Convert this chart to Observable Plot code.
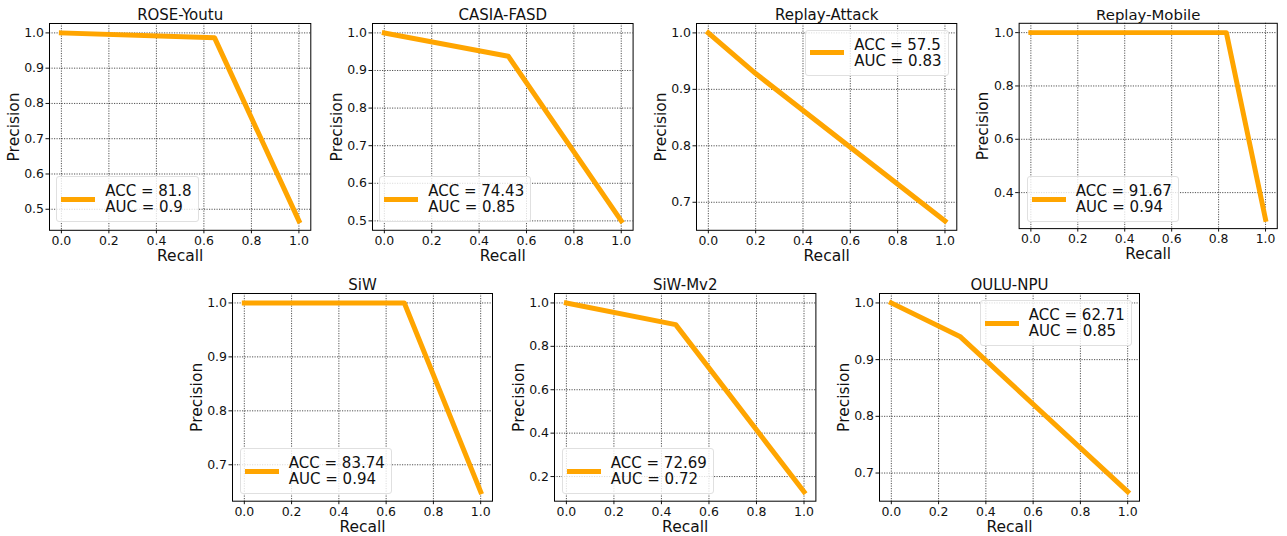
<!DOCTYPE html>
<html><head><meta charset="utf-8">
<script src="https://cdn.jsdelivr.net/npm/d3@7"></script>
<script src="https://cdn.jsdelivr.net/npm/@observablehq/plot@0.6"></script>
<style>
html,body{margin:0;padding:0;background:#fff;}
#root{position:relative;width:1287px;height:536px;overflow:hidden;font-family:"DejaVu Sans",sans-serif;background:#fff;}
.panel{position:absolute;}
.panel svg{overflow:visible;display:block;font-family:"DejaVu Sans",sans-serif !important;}
.panel svg text{font-family:"DejaVu Sans",sans-serif !important;font-weight:normal;}
.panel g[aria-label="x-axis tick label"] text,.panel g[aria-label="y-axis tick label"] text{font-size:12.5px !important;}
.panel g[aria-label="x-axis label"] text,.panel g[aria-label="y-axis label"] text{font-size:15.5px !important;}
.legend{position:absolute;display:flex;align-items:center;background:rgba(255,255,255,0.8);border:1px solid #e0e0e0;border-radius:3px;padding:6px 6px 6px 4px;font-size:15px;line-height:16px;color:#111;white-space:nowrap;}
.legend .swatch{width:34px;height:5px;background:#FFA500;margin-right:10px;}
</style></head><body><div id="root"></div>
<script>
// ---- data ----
const datasets = ["ROSE-Youtu", "CASIA-FASD", "Replay-Attack", "Replay-Mobile", "SiW", "SiW-Mv2", "OULU-NPU"];
const recall = [
  [0, 0.645, 1],
  [0, 0.523, 1],
  [0, 0.2, 1],
  [0, 0.833, 1],
  [0, 0.677, 1],
  [0, 0.46, 1],
  [0, 0.29, 1]
];
const precision = [
  [1, 0.986, 0.467],
  [1, 0.938, 0.5],
  [1, 0.928, 0.667],
  [1, 1, 0.3],
  [1, 1, 0.65],
  [1, 0.9, 0.13],
  [1, 0.941, 0.667]
];
const accValues = ["81.8", "74.43", "57.5", "91.67", "83.74", "72.69", "62.71"];
const aucValues = ["0.9", "0.85", "0.83", "0.94", "0.94", "0.72", "0.85"];
const xTicks = [0, 0.2, 0.4, 0.6, 0.8, 1.0];
const yTickSets = [
  [0.5, 0.6, 0.7, 0.8, 0.9, 1.0],
  [0.5, 0.6, 0.7, 0.8, 0.9, 1.0],
  [0.7, 0.8, 0.9, 1.0],
  [0.4, 0.6, 0.8, 1.0],
  [0.7, 0.8, 0.9, 1.0],
  [0.2, 0.4, 0.6, 0.8, 1.0],
  [0.7, 0.8, 0.9, 1.0]
];

// ---- layout ----
const frames = [
  [48.7, 22.5, 310, 229.3],
  [371.7, 22.5, 632.3, 229.3],
  [695.7, 22.5, 956, 229.3],
  [1019.3, 22.5, 1279.3, 229.3],
  [232.3, 293.3, 492.3, 501],
  [554.3, 293.3, 815.7, 501],
  [879.3, 293.3, 1139.3, 501]
];
const legendPos = ["ll", "ll", "ur", "ll", "ll", "ll", "ur"];
const ML = 52, MR = 10, MT = 28, MB = 36;
const root = document.getElementById("root");
const fmt = d3.format(".1f");
const gridStyle = {stroke: "#000", strokeOpacity: 0.85, strokeWidth: 0.8, strokeDasharray: "1.2,1.3"};

datasets.forEach((name, i) => {
  const [fl, ft, fr, fb] = frames[i];
  const W = fr - fl + ML + MR, H = fb - ft + MT + MB;
  const data = recall[i].map((r, j) => ({recall: r, precision: precision[i][j]}));
  const ymin = d3.min(precision[i]), ymax = d3.max(precision[i]);
  const pad = (ymax - ymin) * 0.05;
  const svg = Plot.plot({
    width: W, height: H,
    marginLeft: ML, marginRight: MR, marginTop: MT, marginBottom: MB,
    style: {fontFamily: "DejaVu Sans", fontSize: "12.5px", color: "#111", background: "transparent", overflow: "visible"},
    x: {domain: [-0.05, 1.05]},
    y: {domain: [ymin - pad, ymax + pad]},
    marks: [
      Plot.gridX(xTicks, gridStyle),
      Plot.gridY(yTickSets[i], gridStyle),
      Plot.line(data, {x: "recall", y: "precision", stroke: "#FFA500", strokeWidth: 5, strokeLinecap: "square", strokeLinejoin: "round"}),
      Plot.frame({stroke: "#000", strokeWidth: 1}),
      Plot.axisX(xTicks, {tickFormat: fmt, tickSize: 3.5, tickPadding: 2, label: "Recall", labelAnchor: "center", labelArrow: "none", labelOffset: 31}),
      Plot.axisY(yTickSets[i], {tickFormat: fmt, tickSize: 3.5, tickPadding: 2, label: "Precision", labelAnchor: "center", labelArrow: "none", labelOffset: 42}),
      Plot.text([name], {text: d => d, frameAnchor: "top", dy: -3, lineAnchor: "bottom", fontSize: 15})
    ]
  });
  const div = document.createElement("div");
  div.className = "panel";
  div.style.left = (fl - ML) + "px";
  div.style.top = (ft - MT) + "px";
  div.appendChild(svg);
  root.appendChild(div);

  const lg = document.createElement("div");
  lg.className = "legend";
  lg.innerHTML = `<div class="swatch"></div><div><div>ACC = ${accValues[i]}</div><div>AUC = ${aucValues[i]}</div></div>`;
  if (legendPos[i] === "ll") {
    lg.style.left = (fl + 7.5) + "px";
    lg.style.bottom = (536 - (fb - 7)) + "px";
  } else {
    lg.style.right = (1287 - (fr - 7.5)) + "px";
    lg.style.top = (ft + 7) + "px";
  }
  root.appendChild(lg);
});
</script></body></html>
